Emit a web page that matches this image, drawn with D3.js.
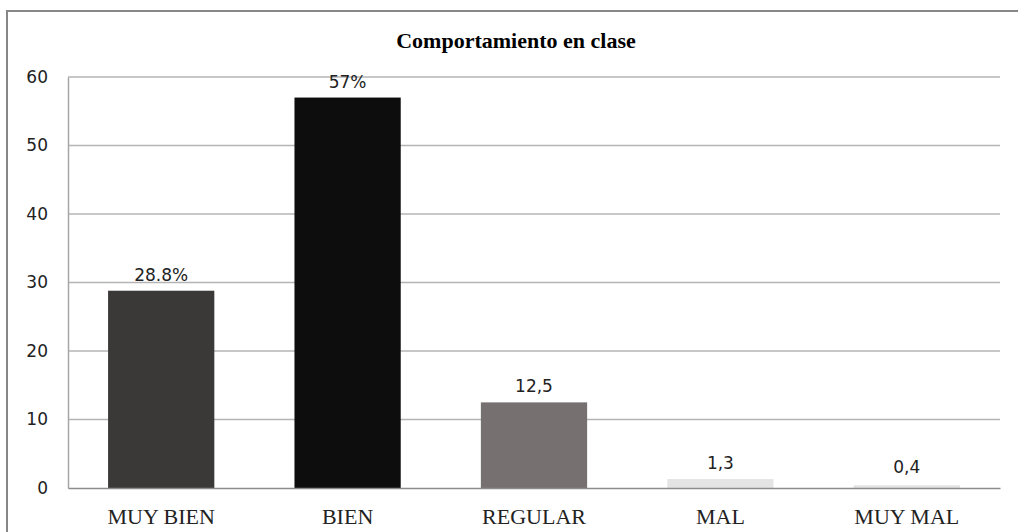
<!DOCTYPE html>
<html>
<head>
<meta charset="utf-8">
<script src="https://cdn.jsdelivr.net/npm/d3@7"></script>
<style>
  body { margin: 0; background: #fff; }
  svg { display: block; }
</style>
</head>
<body>
<svg id="chart" width="1018" height="532"></svg>
<script>
var categories = ["MUY BIEN", "BIEN", "REGULAR", "MAL", "MUY MAL"];
var values = [28.8, 57, 12.5, 1.3, 0.4];
var valueLabels = ["28.8%", "57%", "12,5", "1,3", "0,4"];
var barColors = ["#3b3938", "#0d0d0d", "#767170", "#e4e4e4", "#e4e4e4"];
var yTicks = [0, 10, 20, 30, 40, 50, 60];

var svg = d3.select("#chart");

// outer frame (runs off the right / bottom like the source)
svg.append("rect")
  .attr("x", 7).attr("y", 11)
  .attr("width", 1100).attr("height", 600)
  .attr("fill", "none")
  .attr("stroke", "#878787")
  .attr("stroke-width", 2);

// plot area edges (note: "top" is taken by window.top)
var plotLeft = 68, plotRight = 1000, plotTop = 77, plotBottom = 488;

var x = d3.scaleBand()
  .domain(categories)
  .range([plotLeft, plotRight])
  .paddingInner(0.43)
  .paddingOuter(0.215);

var y = d3.scaleLinear()
  .domain([0, 60])
  .range([plotBottom, plotTop]);

// title
svg.append("text")
  .attr("x", 516).attr("y", 48)
  .attr("text-anchor", "middle")
  .style("font-family", "'Liberation Serif', 'Times New Roman', serif")
  .style("font-weight", "bold")
  .style("font-size", "22px")
  .text("Comportamiento en clase");

// gridlines
svg.append("g")
  .selectAll("line")
  .data(yTicks.filter(function (d) { return d > 0; }))
  .enter().append("line")
  .attr("x1", plotLeft).attr("x2", plotRight)
  .attr("y1", function (d) { return y(d); })
  .attr("y2", function (d) { return y(d); })
  .attr("stroke", "#b4b4b4")
  .attr("stroke-width", 1.5);

// y axis
var yAxis = svg.append("g")
  .attr("transform", "translate(" + plotLeft + ",0)")
  .call(d3.axisLeft(y).tickValues(yTicks).tickSize(0).tickPadding(20));
yAxis.select(".domain").attr("stroke", "#a6a6a6").attr("stroke-width", 1.5);
yAxis.selectAll("text")
  .style("font-family", "'DejaVu Sans', Verdana, sans-serif")
  .style("font-size", "17px")
  .attr("fill", "#222");

// bars
svg.append("g")
  .selectAll("rect")
  .data(values)
  .enter().append("rect")
  .attr("x", function (d, i) { return x(categories[i]); })
  .attr("width", x.bandwidth())
  .attr("y", function (d) { return y(d); })
  .attr("height", function (d) { return y(0) - y(d); })
  .attr("fill", function (d, i) { return barColors[i]; });

// x axis (baseline)
var xAxis = svg.append("g")
  .attr("transform", "translate(0," + plotBottom + ")")
  .call(d3.axisBottom(x).tickSize(0).tickPadding(20));
xAxis.select(".domain").attr("stroke", "#8c8c8c").attr("stroke-width", 1.5);
xAxis.selectAll("text")
  .style("font-family", "'Liberation Serif', 'Times New Roman', serif")
  .style("font-size", "22px")
  .attr("fill", "#222");

// value labels
svg.append("g")
  .selectAll("text")
  .data(values)
  .enter().append("text")
  .attr("x", function (d, i) { return x(categories[i]) + x.bandwidth() / 2; })
  .attr("y", function (d) { return Math.min(y(d) - 10, y(0) - 15); })
  .attr("text-anchor", "middle")
  .style("font-family", "'DejaVu Sans', Verdana, sans-serif")
  .style("font-size", "17px")
  .attr("fill", "#222")
  .text(function (d, i) { return valueLabels[i]; });
</script>
</body>
</html>
